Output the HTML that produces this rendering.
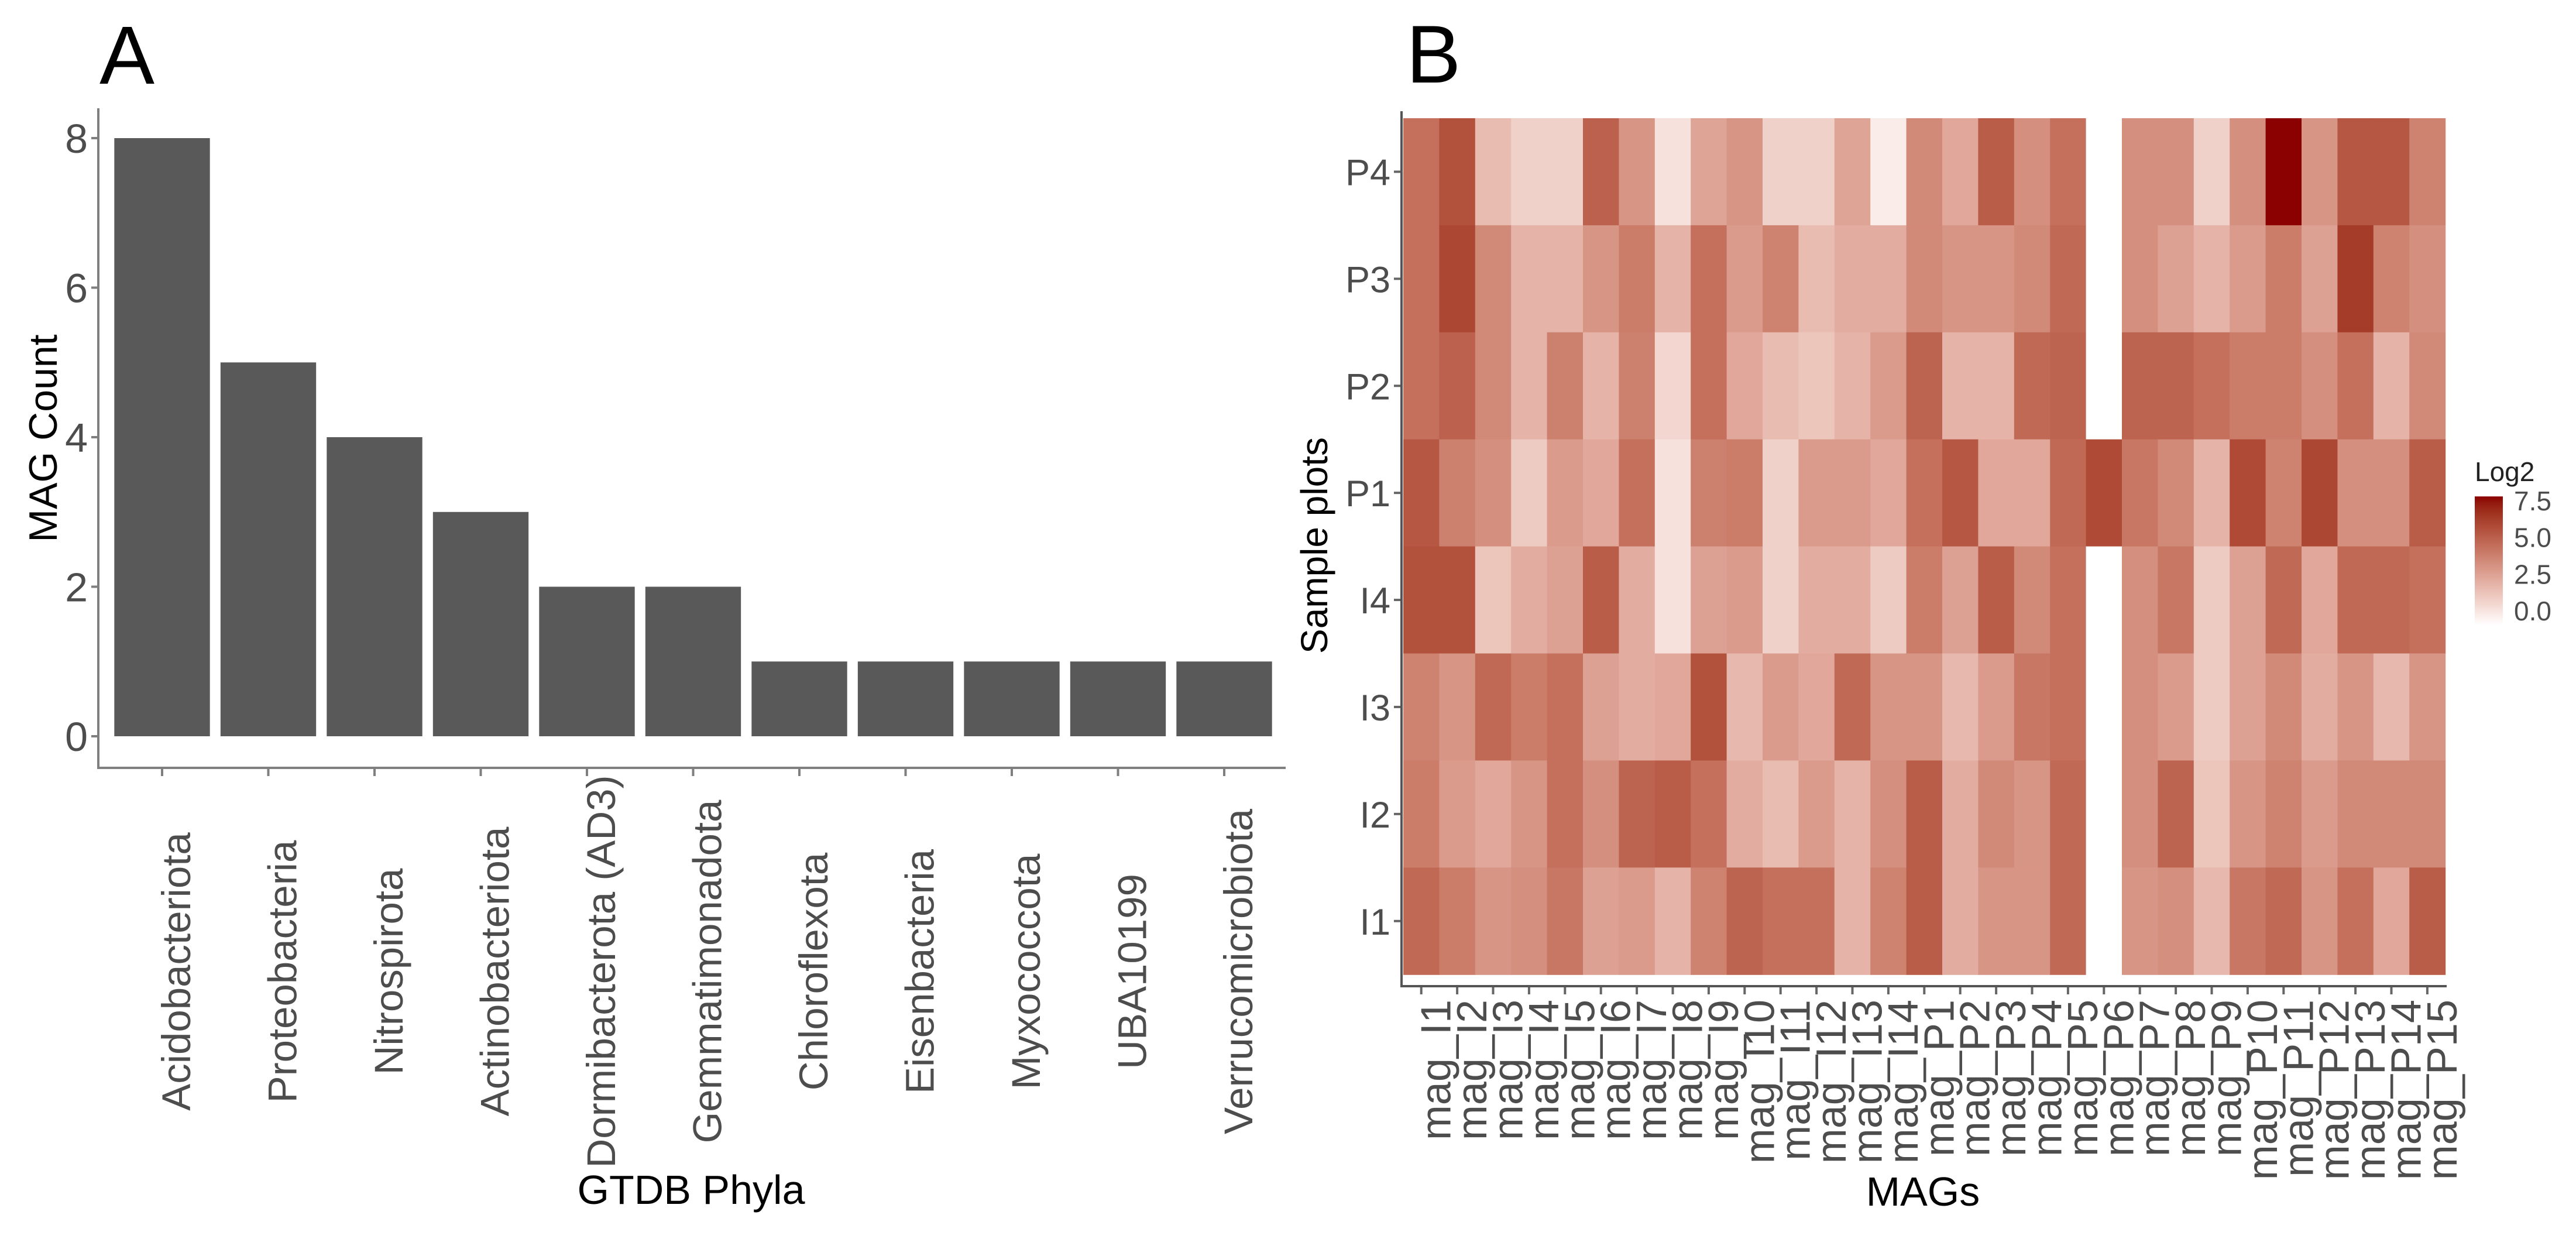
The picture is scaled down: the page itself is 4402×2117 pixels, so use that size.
<!DOCTYPE html>
<html><head><meta charset="utf-8"><style>
html,body{margin:0;padding:0;background:#fff;}
svg{display:block;font-family:"Liberation Sans",Arial,sans-serif;}
</style></head><body>
<svg id="fig" width="4402" height="2117" viewBox="0 0 4402 2117" xmlns="http://www.w3.org/2000/svg">
<rect x="0" y="0" width="4402" height="2117" fill="#fff"/>
<g id="panelA"></g>
<g id="panelB"></g>
<defs><linearGradient id="lg" x1="0" y1="1" x2="0" y2="0"></linearGradient></defs>
</svg>
<script>
// ---- Panel A data ----
const phyla = ["Acidobacteriota","Proteobacteria","Nitrospirota","Actinobacteriota","Dormibacterota (AD3)","Gemmatimonadota","Chloroflexota","Eisenbacteria","Myxococcota","UBA10199","Verrucomicrobiota"];
const magCounts = [8,5,4,3,2,2,1,1,1,1,1];
const yTicksA = [0,2,4,6,8];

// ---- Panel B data ----
const samples = ["P4","P3","P2","P1","I4","I3","I2","I1"];
const mags = ["mag_I1","mag_I2","mag_I3","mag_I4","mag_I5","mag_I6","mag_I7","mag_I8","mag_I9","mag_I10","mag_I11","mag_I12","mag_I13","mag_I14","mag_P1","mag_P2","mag_P3","mag_P4","mag_P5","mag_P6","mag_P7","mag_P8","mag_P9","mag_P10","mag_P11","mag_P12","mag_P13","mag_P14","mag_P15"];
const rowP4 = [5.0,6.0,2.5,1.8,1.8,5.5,3.8,1.2,3.3,3.8,1.8,1.8,3.3,0.8, 4.2,3.2,5.6,4.0,5.0,-0.9,4.0,4.0,1.8,4.0,7.8,3.8,5.8,5.8,4.4];
const rowP3 = [5.0,6.3,4.2,2.8,2.8,3.8,4.6,2.8,5.0,3.6,4.4,2.5,3.0,3.0, 4.2,3.8,3.8,4.2,5.2,-0.8,4.0,3.4,2.8,3.6,4.6,3.4,6.6,4.4,4.0];
const rowP2 = [5.0,5.5,4.2,2.8,4.5,2.8,4.5,1.6,5.0,3.2,2.5,2.2,2.8,3.6, 5.4,2.8,2.8,5.2,5.4,-0.8,5.4,5.4,5.0,4.6,4.6,4.0,5.0,2.8,4.2];
const rowP1 = [5.8,4.5,4.0,2.0,3.6,3.2,5.0,1.2,4.5,4.6,1.8,3.6,3.6,3.2, 5.0,5.8,3.2,3.2,5.2,6.2,4.8,4.2,2.8,6.2,4.4,6.3,4.0,4.0,5.6];
const rowI4 = [6.0,6.0,2.2,3.0,3.4,5.6,3.0,1.2,3.4,3.6,1.8,3.0,3.0,2.0, 4.6,3.4,5.6,4.2,5.0,-1.0,4.0,4.8,2.0,3.4,5.2,3.2,5.2,5.2,5.0];
const rowI3 = [4.4,3.8,5.2,4.6,5.0,3.4,3.0,3.2,6.0,2.6,3.6,3.2,5.2,3.8, 3.8,2.6,3.6,4.8,5.0,-1.0,4.0,3.6,2.0,3.4,4.2,3.0,3.8,2.6,3.8];
const rowI2 = [4.6,3.6,3.2,3.8,5.0,4.0,5.4,5.6,5.0,3.0,2.5,3.6,2.8,4.0, 5.6,3.0,4.2,3.8,5.2,-0.8,4.0,5.4,2.2,3.8,4.4,3.6,4.2,4.2,4.2];
const rowI1 = [5.2,4.6,3.8,4.0,4.8,3.4,3.6,2.8,4.4,5.4,5.0,5.0,2.8,4.4, 5.6,3.0,3.8,3.8,5.2,-0.8,3.8,4.0,2.6,4.8,5.2,3.8,5.0,3.2,5.6];
const heatRows = [rowP4,rowP3,rowP2,rowP1,rowI4,rowI3,rowI2,rowI1];
const legendTicks = [0.0,2.5,5.0,7.5];
const legendLabels = ["0.0","2.5","5.0","7.5"];
const fillMin = -0.96, fillMax = 7.8;

const NS="http://www.w3.org/2000/svg";
function mk(tag, attrs, parent){const e=document.createElementNS(NS,tag);for(const k in attrs)e.setAttribute(k,attrs[k]);parent.appendChild(e);return e;}

// ---------- color scale (Lab interpolation white -> darkred) ----------
function s2l(c){c/=255;return c<=0.04045?c/12.92:Math.pow((c+0.055)/1.055,2.4);}
function l2s(c){c=c<=0.0031308?12.92*c:1.055*Math.pow(c,1/2.4)-0.055;return Math.max(0,Math.min(255,Math.round(c*255)));}
function rgb2lab(r,g,b){r=s2l(r);g=s2l(g);b=s2l(b);
 let x=(r*0.4124+g*0.3576+b*0.1805)/0.95047,y=(r*0.2126+g*0.7152+b*0.0722),z=(r*0.0193+g*0.1192+b*0.9505)/1.08883;
 const f=t=>t>0.008856?Math.cbrt(t):7.787*t+16/116;x=f(x);y=f(y);z=f(z);return [116*y-16,500*(x-y),200*(y-z)];}
function lab2rgb(L,a,b){let y=(L+16)/116,x=a/500+y,z=y-b/200;
 const fi=t=>t*t*t>0.008856?t*t*t:(t-16/116)/7.787;x=fi(x)*0.95047;y=fi(y);z=fi(z)*1.08883;
 const r=x*3.2406+y*-1.5372+z*-0.4986,g=x*-0.9689+y*1.8758+z*0.0415,bb=x*0.0557+y*-0.2040+z*1.0570;
 return "rgb("+l2s(r)+","+l2s(g)+","+l2s(bb)+")";}
const LW=rgb2lab(255,255,255), LD=rgb2lab(139,0,0);
function colorT(t){t=Math.max(0,Math.min(1,t));
 return lab2rgb(LW[0]+(LD[0]-LW[0])*t,LW[1]+(LD[1]-LW[1])*t,LW[2]+(LD[2]-LW[2])*t);}
// cells: lighter mapping (estimates read with white = 0)
function cellColor(v){const t=v/7.8;return colorT(t<1?Math.pow(Math.max(t,0),1.12):1);}

// ---------- Panel A ----------
const A=document.getElementById('panelA');
const ax0=168, ax1=2197, yZero=1258, unitA=127.75, stepA=181.5, c0A=277, barW=0.9*stepA;
const xA=i=>c0A+i*stepA;
const yA=v=>yZero-v*unitA;
let t;
t=mk('text',{x:170,y:143,'font-size':141,fill:'#000'},A);t.textContent='A';


phyla.forEach((p,i)=>{
  const r=mk('rect',{x:xA(i)-barW/2,y:yA(magCounts[i]),width:barW,height:yA(0)-yA(magCounts[i]),fill:'#595959'},A);
  
  
  const tk=mk('line',{x1:xA(i),x2:xA(i),y1:1312,y2:1326,stroke:'#7f7f7f','stroke-width':4},A);
  
  
  const lx=xA(i)+48, ly=1660;
  const tl=mk('text',{x:lx,y:ly,'font-size':69,fill:'#4d4d4d','text-anchor':'middle',transform:'rotate(-90 '+lx+' '+ly+')'},A);
  tl.textContent=p;
  
  
});
yTicksA.forEach(v=>{
  const tk=mk('line',{x1:156,x2:168,y1:yA(v),y2:yA(v),stroke:'#7f7f7f','stroke-width':4},A);
  
  
  const tl=mk('text',{x:150,y:yA(v)+25,'font-size':70,fill:'#4d4d4d','text-anchor':'end'},A);
  tl.textContent=String(v);
  
  
});
let ln=mk('line',{x1:ax0,x2:ax0,y1:185,y2:1312,stroke:'#7f7f7f','stroke-width':4},A);


ln=mk('line',{x1:ax0-2,x2:ax1,y1:1312,y2:1312,stroke:'#7f7f7f','stroke-width':4},A);


t=mk('text',{x:97,y:749,'font-size':68,fill:'#000','text-anchor':'middle',transform:'rotate(-90 97 749)'},A);t.textContent='MAG Count';


t=mk('text',{x:1181,y:2057,'font-size':70,fill:'#000','text-anchor':'middle'},A);t.textContent='GTDB Phyla';



// ---------- Panel B ----------
const B=document.getElementById('panelB');
const hx0=2398, cw=61.4, hy0=202, rh=182.9;
const xB=j=>hx0+j*cw;
const yB=i=>hy0+i*rh;
t=mk('text',{x:2403,y:141,'font-size':140,fill:'#000'},B);t.textContent='B';


heatRows.forEach((row,i)=>{
  row.forEach((v,j)=>{
    const r=mk('rect',{x:xB(j),y:yB(i),width:cw+0.6,height:rh+0.6,fill:cellColor(v)},B);
    
    
  });
});
samples.forEach((s,i)=>{
  const cy=yB(i)+rh/2;
  const tk=mk('line',{x1:2382,x2:2395,y1:cy,y2:cy,stroke:'#666','stroke-width':4},B);
  
  
  const tl=mk('text',{x:2376,y:cy+23,'font-size':63,fill:'#4d4d4d','text-anchor':'end'},B);
  tl.textContent=s;
  
  
});
mags.forEach((m,j)=>{
  const cx=xB(j)+cw/2;
  const tk=mk('line',{x1:cx,x2:cx,y1:1685,y2:1699,stroke:'#666','stroke-width':4},B);
  
  
  const lx=cx+50, ly=1708;
  const tl=mk('text',{x:lx,y:ly,'font-size':72,fill:'#4d4d4d','text-anchor':'end',transform:'rotate(-90 '+lx+' '+ly+')'},B);
  tl.textContent=m;
  
  
});
ln=mk('line',{x1:2395,x2:2395,y1:190,y2:1687,stroke:'#555','stroke-width':4},B);


ln=mk('line',{x1:2393,x2:4181,y1:1685,y2:1685,stroke:'#555','stroke-width':4},B);


t=mk('text',{x:2268,y:932,'font-size':64,fill:'#000','text-anchor':'middle',transform:'rotate(-90 2268 932)'},B);t.textContent='Sample plots';


t=mk('text',{x:3286,y:2060,'font-size':70,fill:'#000','text-anchor':'middle'},B);t.textContent='MAGs';



// legend
const lg=document.getElementById('lg');
for(let k=0;k<=20;k++){mk('stop',{offset:(k/20),'stop-color':colorT(k/20)},lg);}
const yL=v=>1044-v*25.1;
const L=mk('g',{},B);


t=mk('text',{x:4229,y:822,'font-size':46,fill:'#222'},L);t.textContent='Log2';


const cb=mk('rect',{x:4229,y:yL(fillMax),width:48,height:yL(fillMin)-yL(fillMax),fill:'url(#lg)'},L);


legendTicks.forEach((v,k)=>{
  const tl=mk('text',{x:4296,y:yL(v)+16,'font-size':46,fill:'#4d4d4d'},L);
  tl.textContent=legendLabels[k];
  
  
});
</script>
</body></html>
